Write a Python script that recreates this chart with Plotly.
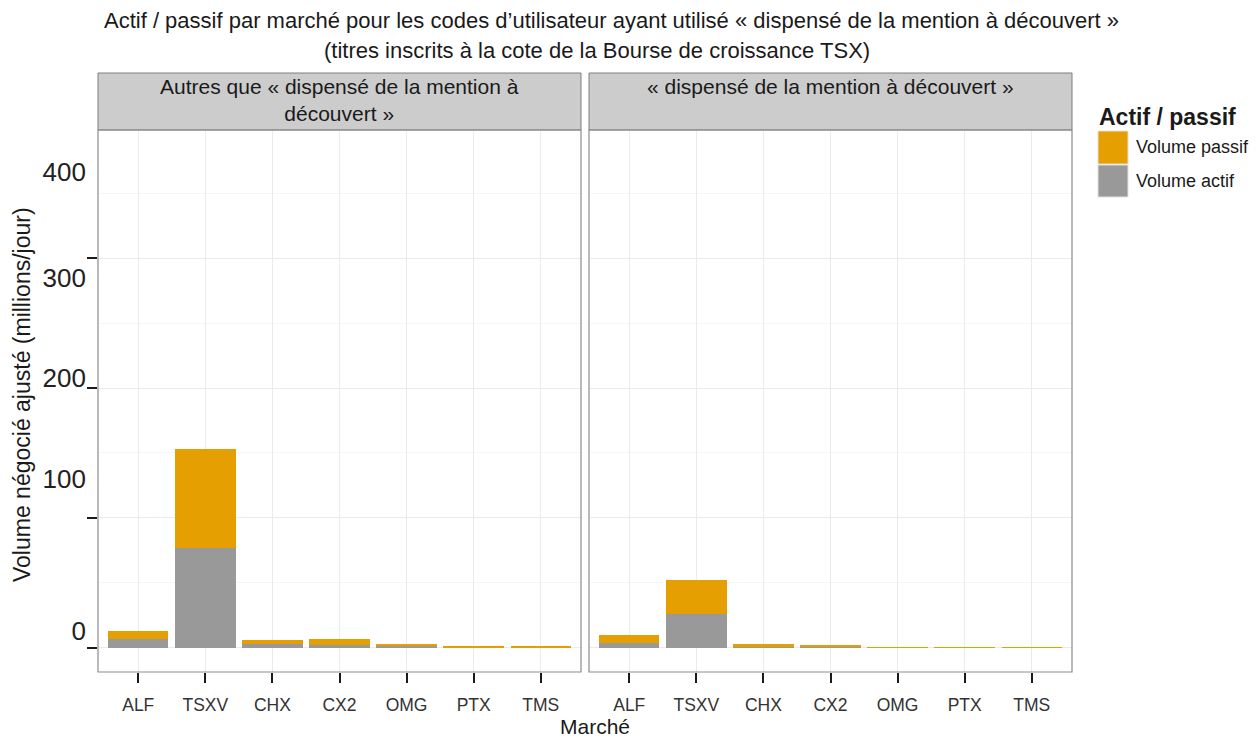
import plotly.graph_objects as go

# données (millions/jour)
marches = ["ALF", "TSXV", "CHX", "CX2", "OMG", "PTX", "TMS"]
facettes = ["Autres que « dispensé de la mention à<br>découvert »",
            "« dispensé de la mention à découvert »"]

actif_autres = [6.7, 77, 3.3, 2.3, 1.8, 0.5, 0.5]
passif_autres = [6.3, 76, 2.6, 4.6, 1.5, 1.3, 1.3]
actif_dispense = [3.8, 26.2, 0.8, 1.3, 0.4, 0.4, 0.4]
passif_dispense = [6.4, 26.3, 2.3, 0.8, 0.1, 0.1, 0.1]

y_ticks = [0, 100, 200, 300, 400]
y_ticktext = ["0", "100", "200", "300", "400"]

ORANGE = "#E69F00"
GRIS = "#999999"
FONT = "Liberation Sans"
TXT = "#1a1a1a"

fig = go.Figure()

panels = [(actif_autres, passif_autres, "x", "y"),
          (actif_dispense, passif_dispense, "x2", "y2")]
for actif, passif, xa, ya in panels:
    fig.add_trace(go.Bar(x=marches, y=actif, name="Volume actif", marker_color=GRIS,
                         marker_line_width=0, width=0.9, xaxis=xa, yaxis=ya,
                         showlegend=False))
    fig.add_trace(go.Bar(x=marches, y=passif, name="Volume passif", marker_color=ORANGE,
                         marker_line_width=0, width=0.9, xaxis=xa, yaxis=ya,
                         showlegend=False))

# geometry, in screen pixels (page body adds an 8px margin)
OFF = 8
W, H = 1257, 738
L, R, T, B = 98, 1072, 130, 672
pw, ph = R - L, B - T
def px(x):
    return (x - L) / pw
def py(y):
    return (B - y) / ph

dom1 = [0, px(581)]
dom2 = [px(589), 1]
yrange = [-18.5, 398.5]

xcommon = dict(type="category", categoryorder="array", categoryarray=marches,
               range=[-0.6, 6.6], showgrid=True, gridcolor="#ebebeb", gridwidth=1,
               ticks="outside", ticklen=10, tickcolor="#1a1a1a", tickwidth=1.5,
               ticklabelstandoff=7,
               tickfont=dict(family=FONT, size=17.5, color="#333333"),
               showline=False, zeroline=False)
ycommon = dict(range=yrange, tickvals=y_ticks, showgrid=True, gridcolor="#ebebeb",
               gridwidth=1, zeroline=False, showline=False,
               minor=dict(dtick=50, tick0=0, showgrid=True, gridcolor="#f5f5f5", gridwidth=1))

fig.update_layout(
    xaxis=dict(domain=dom1, anchor="y", **xcommon),
    xaxis2=dict(domain=dom2, anchor="y2", **xcommon),
    yaxis=dict(domain=[0, 1], anchor="x", ticks="outside", ticklen=10,
               tickcolor="#1a1a1a", tickwidth=1.5, showticklabels=False, **ycommon),
    yaxis2=dict(domain=[0, 1], anchor="x2", matches="y", ticks="", showticklabels=False,
                **ycommon),
    # labels de l'axe y, placés comme sur l'original
    yaxis3=dict(overlaying="y", anchor="free", position=0, side="left", range=yrange,
                tickvals=[13, 130, 208, 285, 366], ticktext=y_ticktext, ticks="",
                showgrid=False, zeroline=False, showline=False, ticklabelstandoff=12,
                tickfont=dict(family=FONT, size=26, color="#222222")),
    barmode="stack",
    width=W, height=H,
    margin=dict(l=L - OFF, r=W - R + OFF, t=T - OFF, b=H - B + OFF, pad=0),
    plot_bgcolor="white", paper_bgcolor="white",
    showlegend=False,
    font=dict(family=FONT, color=TXT),
)
# trace fantôme pour tenir l'axe y3
fig.add_trace(go.Scatter(x=[None], y=[None], yaxis="y3", xaxis="x", showlegend=False,
                         hoverinfo="skip"))

shapes = []
annotations = []
for dom, label in zip([dom1, dom2], facettes):
    # bandeau de facette
    shapes.append(dict(type="rect", xref="paper", yref="paper", x0=dom[0], x1=dom[1],
                       y0=1, y1=py(73), fillcolor="#cccccc",
                       line=dict(color="#7f7f7f", width=1), layer="above"))
    # cadre du panneau
    shapes.append(dict(type="rect", xref="paper", yref="paper", x0=dom[0], x1=dom[1],
                       y0=0, y1=1, line=dict(color="#8c8c8c", width=1.2), layer="above"))
    annotations.append(dict(text=label, xref="paper", yref="paper",
                            x=(dom[0] + dom[1]) / 2, y=py(73), xanchor="center",
                            yanchor="top", showarrow=False,
                            font=dict(family=FONT, size=21, color=TXT)))

# titre
annotations.append(dict(text="Actif / passif par marché pour les codes d’utilisateur ayant utilisé « dispensé de la mention à découvert »",
                        xref="paper", yref="paper", x=px(611), y=py(20), xanchor="center",
                        yanchor="middle", showarrow=False,
                        font=dict(family=FONT, size=22, color=TXT)))
annotations.append(dict(text="(titres inscrits à la cote de la Bourse de croissance TSX)",
                        xref="paper", yref="paper", x=px(597), y=py(50), xanchor="center",
                        yanchor="middle", showarrow=False,
                        font=dict(family=FONT, size=22, color=TXT)))
# titres d'axes
annotations.append(dict(text="Marché", xref="paper", yref="paper", x=px(595), y=py(726),
                        xanchor="center", yanchor="middle", showarrow=False,
                        font=dict(family=FONT, size=21, color=TXT)))
annotations.append(dict(text="Volume négocié ajusté (millions/jour)", xref="paper",
                        yref="paper", x=px(22), y=py(395), xanchor="center",
                        yanchor="middle", textangle=-90, showarrow=False,
                        font=dict(family=FONT, size=23, color=TXT)))

# légende
annotations.append(dict(text="<b>Actif / passif</b>", xref="paper", yref="paper",
                        x=px(1097), y=py(117), xanchor="left", yanchor="middle",
                        showarrow=False, font=dict(family=FONT, size=23, color=TXT)))
for (name, col), (y0, y1) in zip([("Volume passif", ORANGE), ("Volume actif", GRIS)],
                                 [(131, 164), (165, 197)]):
    shapes.append(dict(type="rect", xref="paper", yref="paper", x0=px(1098), x1=px(1128),
                       y0=py(y1), y1=py(y0), fillcolor=col, line=dict(color="#e0e0e0", width=1)))
    annotations.append(dict(text=name, xref="paper", yref="paper", x=px(1134),
                            y=py((y0 + y1) / 2), xanchor="left", yanchor="middle",
                            showarrow=False, font=dict(family=FONT, size=18, color=TXT)))

fig.update_layout(shapes=shapes, annotations=annotations)

fig.write_html("out.html")
